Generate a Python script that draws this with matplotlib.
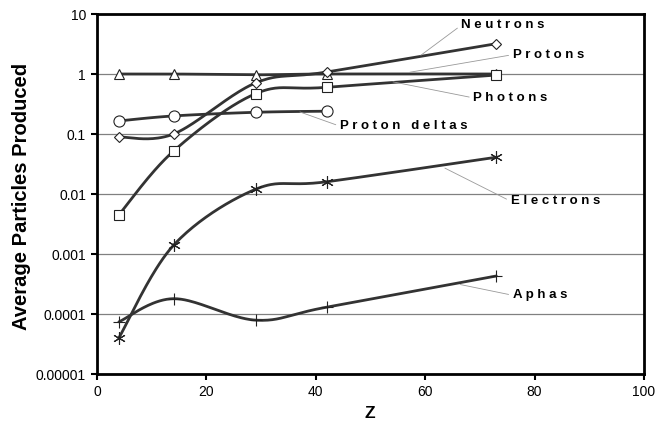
import numpy as np
import matplotlib
matplotlib.use("Agg")
import matplotlib.pyplot as plt

plt.rcParams["font.family"] = ["Liberation Sans", "DejaVu Sans"]

# ---- DATA ----------------------------------------------------------------
z = [4, 14, 29, 42, 73]
photons = [1.0, 1.0, 0.97, 1.0, 1.0]
neutrons = [0.089, 0.10, 0.71, 1.08, 3.2]
protons = [0.0045, 0.052, 0.47, 0.60, 0.96]
proton_deltas = [0.165, 0.20, 0.23, 0.24]
electrons = [0.00004, 0.0014, 0.012, 0.016, 0.041]
alphas = [0.000074, 0.00018, 0.000079, 0.00013, 0.00043]

x_ticks = [0, 20, 40, 60, 80, 100]
y_ticks = [1e-5, 1e-4, 1e-3, 1e-2, 1e-1, 1, 10]
y_ticklabels = ["0.00001", "0.0001", "0.001", "0.01", "0.1", "1", "10"]

LINE = "#333333"


def smooth(xs, ys, n=40):
    """Excel-like smoothed line: cubic Bezier through points in screen-ish space."""
    px = np.asarray(xs, float) * 5.47
    py = np.log10(np.asarray(ys, float)) * 60.0
    pts = np.column_stack([px, py])
    pad = np.vstack([pts[0], pts, pts[-1]])
    out = [pts[0]]
    t = np.linspace(0, 1, n)[1:, None]
    for i in range(1, len(pad) - 2):
        p0, p1, p2, p3 = pad[i - 1], pad[i], pad[i + 1], pad[i + 2]
        c1 = p1 + (p2 - p0) / 6.0
        c2 = p2 - (p3 - p1) / 6.0
        seg = ((1 - t) ** 3) * p1 + 3 * ((1 - t) ** 2) * t * c1 \
            + 3 * (1 - t) * t ** 2 * c2 + t ** 3 * p2
        out.extend(seg)
    out = np.array(out)
    return out[:, 0] / 5.47, 10 ** (out[:, 1] / 60.0)


fig = plt.figure(figsize=(6.68, 4.21), dpi=100)
ax = fig.add_axes([97 / 668, 1 - 374 / 421, (644 - 97) / 668, (374 - 14) / 421])
ax.set_yscale("log")

series = [
    (z, photons, "^", 7),
    (z, neutrons, "D", 5.5),
    (z, protons, "s", 7),
    (z[:4], proton_deltas, "o", 8),
    (z, alphas, "+", 9),
]
for xs, ys, mk, ms in series:
    sx, sy = smooth(xs, ys)
    ax.plot(sx, sy, color=LINE, lw=2.0, zorder=3, solid_capstyle="round")
    ax.plot(xs, ys, ls="none", marker=mk, ms=ms, mfc="white", mec="#222222",
            mew=0.8, zorder=4)

sx, sy = smooth(z, electrons)
ax.plot(sx, sy, color=LINE, lw=2.0, zorder=3)
ax.plot(z, electrons, ls="none", marker=(6, 2, 0), ms=9, mec="#222222",
        mew=0.8, zorder=4)

# labels with leader lines
labels = [
    ("N e u t r o n s", (59.2, 2.05), (66.6, 6.5)),
    ("P r o t o n s", (57.2, 1.07), (76.0, 2.1)),
    ("P h o t o n s", (54.1, 0.74), (68.8, 0.40)),
    ("P r o t o n   d e l t a s", (37.1, 0.233), (44.4, 0.135)),
    ("E l e c t r o n s", (63.6, 0.027), (75.6, 0.0076)),
    ("A p h a s", (66.4, 3.1e-4), (76.0, 2.05e-4)),
]
for text, tip, pos in labels:
    ax.annotate(text, xy=tip, xytext=pos, ha="left", va="center",
                fontsize=9.5, fontweight="bold", zorder=5,
                arrowprops=dict(arrowstyle="-", color="#999999", lw=0.6,
                                shrinkA=1, shrinkB=0, relpos=(0, 0.5)))

ax.set_xlim(0, 100)
ax.set_ylim(1e-5, 10)
ax.set_xticks(x_ticks)
ax.set_xticklabels([str(v) for v in x_ticks])
ax.set_yticks(y_ticks)
ax.set_yticklabels(y_ticklabels)
ax.minorticks_off()
ax.tick_params(direction="out", length=4, width=1.5, labelsize=10, pad=4)
ax.grid(axis="y", color="#808080", lw=0.9)
ax.set_axisbelow(True)
for sp in ax.spines.values():
    sp.set_linewidth(2.0)
    sp.set_color("black")

fig.text(22 / 668, 1 - 196 / 421, "Average Particles Produced", rotation=90,
         ha="center", va="center", fontsize=14.5, fontweight="bold")
fig.text(370 / 668, 1 - 413 / 421, "Z", ha="center", va="center",
         fontsize=12.5, fontweight="bold")

fig.savefig("out.png", dpi=100)
